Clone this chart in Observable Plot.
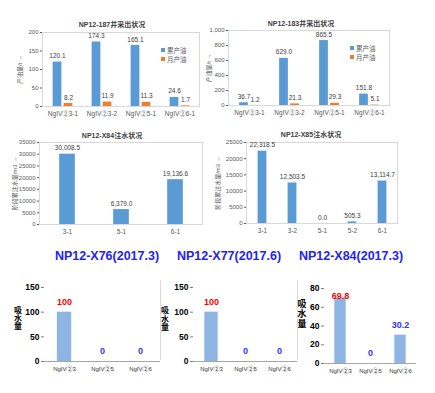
<!DOCTYPE html>
<html><head><meta charset="utf-8">
<script src="https://cdn.jsdelivr.net/npm/d3@7"></script>
<script src="https://cdn.jsdelivr.net/npm/@observablehq/plot@0.6"></script>
<style>
body{margin:0;background:#fff}
#root{position:relative;width:435px;height:393px;overflow:hidden;font-family:'Liberation Sans','Noto Sans CJK SC',sans-serif}
#root svg{overflow:visible}
</style>
</head><body><div id="root"></div>
<script>
// ---- data ----
const prodCats = ["NgIV②3-1", "NgIV②3-2", "NgIV②5-1", "NgIV②6-1"];
const w187Cum = [120.1, 174.3, 165.1, 24.6];
const w187Month = [8.2, 11.9, 11.3, 1.7];
const w183Cum = [36.7, 629.0, 865.5, 151.8];
const w183Month = [1.2, 21.3, 29.3, 5.1];
const w187Ticks = [0, 50, 100, 150, 200];
const w183Ticks = [0, 200, 400, 600, 800, 1000];
const x84Cats = ["3-1", "5-1", "6-1"];
const x84Inj = [30008.5, 6379.0, 19136.6];
const x84Ticks = [0, 5000, 10000, 15000, 20000, 25000, 30000, 35000];
const x85Cats = ["3-1", "3-2", "5-1", "5-2", "6-1"];
const x85Inj = [22318.5, 12503.5, 0.0, 505.3, 13114.7];
const x85Ticks = [0, 5000, 10000, 15000, 20000, 25000];
const absorbCats = ["NgIV②3", "NgIV②5", "NgIV②6"];
const x76Absorb = [100, 0, 0];
const x77Absorb = [100, 0, 0];
const x84Absorb = [69.8, 0, 30.2];
const absTicks150 = [0, 50, 100, 150];
const absTicks80 = [0, 20, 40, 60, 80];
const seriesNames = ["累产油", "月产油"];

const FONT = "'Liberation Sans','Noto Sans CJK SC',sans-serif";
const BLUE = "#5B9BD5", ORANGE = "#ED7D31";
const root = document.getElementById("root");

function place(node, left, top) {
  node.style.position = "absolute";
  node.style.left = left + "px";
  node.style.top = top + "px";
  root.appendChild(node);
}
function textAt(txt, cx, cy, css) {
  const d = document.createElement("div");
  d.innerHTML = txt;
  d.style.position = "absolute";
  d.style.left = cx + "px";
  d.style.top = cy + "px";
  d.style.transform = "translate(-50%,-50%)";
  d.style.whiteSpace = "nowrap";
  Object.assign(d.style, css || {});
  root.appendChild(d);
  return d;
}
function legend(x, y) {
  [BLUE, ORANGE].forEach((c, i) => {
    const row = document.createElement("div");
    row.style.cssText = `position:absolute;left:${x}px;top:${y + i * 9 - 4}px;font-size:6.5px;color:#595959;display:flex;align-items:center;gap:2px;white-space:nowrap`;
    row.innerHTML = `<span style="display:inline-block;width:4px;height:4px;background:${c}"></span>${seriesNames[i]}`;
    root.appendChild(row);
  });
}

function productionChart({cats, cum, month, yMax, yTicks, width, height, mL, mR, mT, mB, labelOffset}) {
  const rows = cats.map((c, i) => ({cat: c, cum: cum[i], month: month[i]}));
  const bw = (width - mL - mR) / cats.length;
  return Plot.plot({
    width, height, marginLeft: mL, marginRight: mR, marginTop: mT, marginBottom: mB,
    style: {fontSize: "6.5px", fontFamily: FONT, color: "#595959", background: "transparent"},
    x: {domain: cats, padding: 0, label: null},
    y: {domain: [0, yMax], label: null},
    marks: [
      Plot.frame({stroke: "#d9d9d9"}),
      Plot.axisX({tickSize: 0, tickPadding: 5, label: null}),
      Plot.axisY({ticks: yTicks, tickSize: 2, tickPadding: 2, label: "产油量/t", labelAnchor: "center", labelOffset, fontSize: 6}),
      Plot.barY(rows, {x: "cat", y: "cum", fill: BLUE, insetLeft: bw / 2 - 10, insetRight: bw / 2 + 1}),
      Plot.barY(rows, {x: "cat", y: "month", fill: ORANGE, insetLeft: bw / 2 + 1, insetRight: bw / 2 - 10}),
      Plot.text(rows, {x: "cat", y: "cum", text: d => d.cum.toFixed(1), dx: -5.5, dy: -6, fill: "#404040"}),
      Plot.text(rows, {x: "cat", y: "month", text: d => d.month.toFixed(1), dx: 5.5, dy: -6, fill: "#404040"})
    ]
  });
}

function injectionChart({cats, vals, yMax, yTicks, width, height, mL, mR, mT, mB, barW, labelOffset}) {
  const rows = cats.map((c, i) => ({cat: c, v: vals[i]}));
  const bw = (width - mL - mR) / cats.length;
  const fmt = d3.format(",.1f");
  return Plot.plot({
    width, height, marginLeft: mL, marginRight: mR, marginTop: mT, marginBottom: mB,
    style: {fontSize: "6.5px", fontFamily: FONT, color: "#595959", background: "transparent"},
    x: {domain: cats, padding: 0, label: null},
    y: {domain: [0, yMax], label: null},
    marks: [
      Plot.frame({stroke: "#d9d9d9"}),
      Plot.axisX({tickSize: 0, tickPadding: 5, label: null}),
      Plot.axisY({ticks: yTicks, tickSize: 2, tickPadding: 2, tickFormat: d3.format("d"), label: "阶段累注水量/m3", labelAnchor: "center", labelOffset, fontSize: 6}),
      Plot.barY(rows, {x: "cat", y: "v", fill: BLUE, insetLeft: (bw - barW) / 2, insetRight: (bw - barW) / 2}),
      Plot.text(rows, {x: "cat", y: "v", text: d => fmt(d.v), dy: -6, fill: "#404040"})
    ]
  });
}

function absorbChart({cats, vals, yMax, yTicks, width, height, mL, mR, mT, mB, barW}) {
  const rows = cats.map((c, i) => ({cat: c, v: vals[i], first: i === 0}));
  const bw = (width - mL - mR) / cats.length;
  const inside = d => d.v / yMax > 0.8;
  const col = d => d.first ? "#FF0000" : "#3333FF";
  return Plot.plot({
    width, height, marginLeft: mL, marginRight: mR, marginTop: mT, marginBottom: mB,
    style: {fontSize: "8.5px", fontFamily: FONT, color: "#000", background: "transparent"},
    x: {domain: cats, padding: 0, label: null},
    y: {domain: [0, yMax], label: null},
    marks: [
      Plot.barY(rows, {x: "cat", y: "v", fill: "#8DB4E2", insetLeft: (bw - barW) / 2, insetRight: (bw - barW) / 2}),
      Plot.ruleY([0], {stroke: "#a6a6a6"}),
      Plot.axisX({tickSize: 0, tickPadding: 5, label: null, fontSize: 6, fill: "#333"}),
      Plot.axisY({ticks: yTicks, tickSize: 3, tickPadding: 2, label: null, fontWeight: "bold", line: true, stroke: "#808080"}),
      Plot.text(rows.filter(d => !inside(d)), {x: "cat", y: "v", text: d => String(d.v), dy: -10, fill: col, fontSize: 9, fontWeight: "bold"}),
      Plot.text(rows.filter(inside), {x: "cat", y: "v", text: d => String(d.v), dy: -2, fill: col, fontSize: 9, fontWeight: "bold"})
    ]
  });
}

// ---- top row: production ----
place(productionChart({cats: prodCats, cum: w187Cum, month: w187Month, yMax: 200, yTicks: w187Ticks,
  width: 205, height: 110, mL: 42, mR: 6, mT: 17, mB: 19, labelOffset: 25}), 0, 15);
textAt("NP12-187井采出状况", 112, 24, {fontSize: "7px", fontWeight: "bold", color: "#404040"});
legend(161, 49);

place(productionChart({cats: prodCats, cum: w183Cum, month: w183Month, yMax: 1000, yTicks: w183Ticks,
  width: 195, height: 110, mL: 28, mR: 6, mT: 15, mB: 20, labelOffset: 22}), 200, 15);
textAt("NP12-183井采出状况", 301, 23, {fontSize: "7px", fontWeight: "bold", color: "#404040"});
legend(350, 47);

// ---- middle row: injection ----
place(injectionChart({cats: x84Cats, vals: x84Inj, yMax: 35000, yTicks: x84Ticks,
  width: 207, height: 115, mL: 39, mR: 5, mT: 17, mB: 16, barW: 16, labelOffset: 27}), 0, 125);
textAt("NP12-X84注水状况", 112, 135, {fontSize: "7px", fontWeight: "bold", color: "#404040"});

place(injectionChart({cats: x85Cats, vals: x85Inj, yMax: 25000, yTicks: x85Ticks,
  width: 190, height: 115, mL: 34, mR: 5, mT: 17, mB: 17, barW: 9, labelOffset: 31}), 212, 125);
textAt("NP12-X85注水状况", 311, 134, {fontSize: "7px", fontWeight: "bold", color: "#404040"});

// ---- bottom row: water absorption ----
const titleCss = {fontSize: "12.5px", fontWeight: "bold", color: "#2424F0", fontFamily: "'Liberation Sans',sans-serif"};
textAt("NP12-X76(2017.3)", 107, 256, titleCss);
textAt("NP12-X77(2017.6)", 229, 256, titleCss);
textAt("NP12-X84(2017.3)", 351, 256, titleCss);

place(absorbChart({cats: absorbCats, vals: x76Absorb, yMax: 150, yTicks: absTicks150,
  width: 165, height: 100, mL: 44, mR: 5, mT: 7, mB: 19, barW: 15}), 0, 280);
place(absorbChart({cats: absorbCats, vals: x77Absorb, yMax: 150, yTicks: absTicks150,
  width: 142, height: 100, mL: 33, mR: 5, mT: 7, mB: 19, barW: 14}), 160, 280);
place(absorbChart({cats: absorbCats, vals: x84Absorb, yMax: 80, yTicks: absTicks80,
  width: 125, height: 100, mL: 27, mR: 6, mT: 8, mB: 17, barW: 12}), 297, 280);

// panel separators
[[160, 280, 80], [297, 280, 80]].forEach(([x, y, h]) => {
  const d = document.createElement("div");
  d.style.cssText = `position:absolute;left:${x}px;top:${y}px;width:0;height:${h}px;border-left:1px solid #d9d9d9`;
  root.appendChild(d);
});

const yl = "吸<br>水<br>量";
textAt(yl, 18, 319, {fontSize: "8px", fontWeight: "bold", lineHeight: "8px", color: "#000"});
textAt(yl, 165, 320, {fontSize: "8px", fontWeight: "bold", lineHeight: "8.5px", color: "#000"});
textAt(yl, 302, 314, {fontSize: "9px", fontWeight: "bold", lineHeight: "10px", color: "#000"});
</script>
</body></html>
